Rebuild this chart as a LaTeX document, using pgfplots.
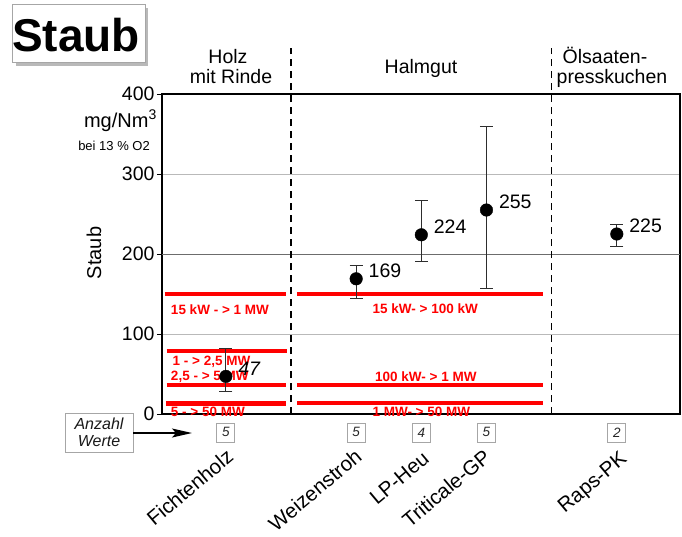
\documentclass[border=0pt]{standalone}
\usepackage{pgfplots}
\pgfplotsset{compat=1.18}
\usepackage{pgfplotstable}
\usepackage{fontspec}
\setmainfont{Liberation Sans}
\usetikzlibrary{arrows.meta}

\definecolor{limitred}{RGB}{255,0,0}
\definecolor{errgray}{RGB}{45,45,45}

% mean dust concentration with error bar up / down
\pgfplotstableread{
x y ep em
0 47 35 19
}\fichte
\pgfplotstableread{
x y ep em
2 169 17 24
3 224 43 33
4 255 105 98
6 225 12 15
}\rest

\begin{document}
\begin{tikzpicture}[x=1pt,y=1pt]
\useasboundingbox (0,0) rectangle (682,-536);

% title box with shadow
\fill[gray!55] (15.5,-7.5) rectangle (148,-66);
\draw[gray!70, line width=1pt, fill=white] (12,-4) rectangle (145,-62);
\node[font=\fontsize{46}{46}\bfseries\selectfont, inner sep=0] at (76,-35) {Staub};

\begin{axis}[
  at={(162pt,-414pt)}, anchor=south west,
  scale only axis, width=518pt, height=320pt,
  xmin=-0.98, xmax=6.97, ymin=0, ymax=400,
  clip=false,
  axis line style={black, line width=1.3pt},
  xtick=\empty,
  ytick={0,100,300,400}, extra y ticks={200},
  ytick pos=left,
  ymajorgrids, grid style={gray!55, line width=0.8pt},
  extra y tick style={grid style={gray!85!black, line width=1pt}},
  tick align=outside, major tick length=5pt,
  tick style={black, line width=1pt},
  yticklabel style={font=\fontsize{19.5}{19.5}\selectfont, xshift=1pt},
  /pgf/number format/assume math mode=true,
  mean/.style={only marks, mark=*, mark size=6.3pt, black,
    nodes near coords, point meta=y,
    every node near coord/.append style={anchor=west, xshift=9pt, yshift=8pt,
      text=black, font=\fontsize{19.5}{19.5}\selectfont},
    error bars/.cd, y dir=both, y explicit,
    error bar style={errgray, line width=1pt},
    error mark options={rotate=90, errgray, line width=1pt, mark size=6.5pt},
    /pgfplots/.cd},
]

% emission limits by rated thermal input
\addplot[limitred, line width=4.5pt, forget plot] coordinates {(-0.94,150) (0.92,150)};
\addplot[limitred, line width=4.5pt, forget plot] coordinates {(-0.91,79) (0.94,79)};
\addplot[limitred, line width=4.5pt, forget plot] coordinates {(-0.91,36) (0.92,36)};
\addplot[limitred, line width=4.5pt, forget plot] coordinates {(-0.92,13) (0.92,13)};
\addplot[limitred, line width=4.5pt, forget plot] coordinates {(1.09,150) (4.87,150)};
\addplot[limitred, line width=4.5pt, forget plot] coordinates {(1.09,36) (4.87,36)};
\addplot[limitred, line width=4.5pt, forget plot] coordinates {(1.09,14) (4.87,14)};

\begin{scope}[every node/.style={text=limitred, inner sep=0,
    font=\fontsize{13.5}{14}\bfseries\selectfont}]
\node[anchor=west] at (axis cs:-0.845,131) {15 kW - > 1 MW};
\node[anchor=west] at (axis cs:-0.82,65) {1 - > 2,5 MW};
\node[anchor=west] at (axis cs:-0.845,46) {2,5 - > 5 MW};
\node[anchor=west] at (axis cs:-0.845,3) {5 - > 50 MW};
\node at (axis cs:3.06,132) {15 kW- > 100 kW};
\node at (axis cs:3.07,47) {100 kW- > 1 MW};
\node at (axis cs:3.0,3) {1 MW- > 50 MW};
\end{scope}

% fuel group separators
\draw[black, line width=1.5pt, dash pattern=on 7pt off 5pt] (axis cs:1,0) -- (axis cs:1,457);
\draw[black, line width=1.5pt, dash pattern=on 7pt off 5pt] (axis cs:5,0) -- (axis cs:5,457);

% measured means with spread
\addplot[mean] table[x=x, y=y, y error plus=ep, y error minus=em] {\rest};
\addplot[mean, every node near coord/.append style={font=\fontsize{19.5}{19.5}\itshape\selectfont}]
  table[x=x, y=y, y error plus=ep, y error minus=em] {\fichte};

% number of values per fuel
\begin{scope}[every node/.style={draw=gray!70, line width=0.8pt, minimum width=18pt,
    minimum height=19pt, inner sep=0, text=gray!30!black,
    font=\fontsize{13.5}{13.5}\itshape\selectfont}]
\node at (axis cs:0,-23) {5};
\node at (axis cs:2,-23) {5};
\node at (axis cs:3,-23) {4};
\node at (axis cs:4,-23) {5};
\node at (axis cs:6,-23) {2};
\end{scope}

% fuel names
\begin{scope}[every node/.style={rotate=40, anchor=north east, inner sep=0,
    font=\fontsize{20.5}{20.5}\selectfont}]
\node at (axis cs:-0.01,-42) {Fichtenholz};
\node at (axis cs:1.96,-42) {Weizenstroh};
\node at (axis cs:3.0,-45) {LP-Heu};
\node at (axis cs:3.94,-42) {Triticale-GP};
\node at (axis cs:6.03,-45) {Raps-PK};
\end{scope}
\end{axis}

% group headings
\begin{scope}[every node/.style={anchor=base, inner sep=0, font=\fontsize{19.5}{19.5}\selectfont}]
\node at (228,-63) {Holz};
\node at (231,-83) {mit Rinde};
\node at (421,-73) {Halmgut};
\node at (605,-63) {Ölsaaten-};
\node at (612,-83) {presskuchen};
\end{scope}

% unit and axis title
\node[anchor=base east, inner sep=0, font=\fontsize{20}{20}\selectfont] at (157,-127) {mg/Nm\textsuperscript{3}};
\node[anchor=base east, inner sep=0, font=\fontsize{13}{13}\selectfont] at (150,-150) {bei 13 \% O2};
\node[rotate=90, inner sep=0, font=\fontsize{20}{20}\selectfont] at (94,-253) {Staub};

% legend for the count boxes
\node[draw=gray!70, line width=1pt, fill=white, align=center, inner sep=0,
  minimum width=68pt, minimum height=39pt, text=gray!20!black,
  font=\fontsize{16}{16.5}\itshape\selectfont] at (99,-432.5) {Anzahl\\Werte};
\draw[line width=1.3pt, -{Stealth[length=20pt, width=9pt, inset=4pt]}] (133,-433) -- (192,-433);
\end{tikzpicture}
\end{document}
